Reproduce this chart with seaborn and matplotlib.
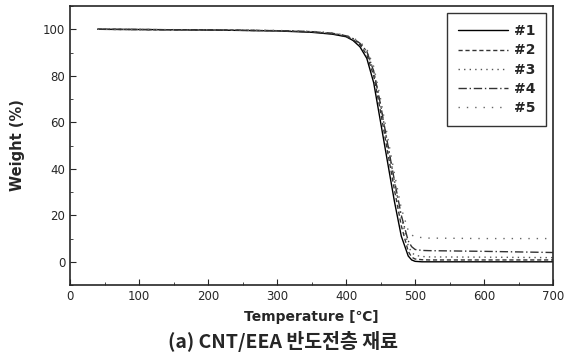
import pandas as pd
import seaborn as sns
import matplotlib.pyplot as plt
from matplotlib.ticker import MultipleLocator

sns.set_style("ticks")
plt.rcParams['font.family'] = ['DejaVu Sans', 'Noto Sans CJK KR']

# 온도 (°C)
temp = [40, 100, 200, 300, 350, 380, 400, 410, 420, 430, 440, 450, 460,
        470, 480, 490, 495, 500, 510, 520, 600, 700]

# 시료별 무게 (%)
w1 = [100, 99.9, 99.7, 99.3, 98.7, 97.9, 96.8, 95.2, 92.5, 87.5, 77.0, 60.0, 43.0,
      26.0, 11.0, 2.5, 0.8, 0.2, 0.0, 0.0, 0.0, 0.0]
w2 = [100, 99.9, 99.7, 99.4, 98.9, 98.1, 97.0, 95.6, 93.4, 89.0, 80.0, 64.5, 47.5,
      31.0, 15.5, 4.5, 2.0, 1.2, 0.9, 0.8, 0.8, 0.8]
w3 = [100, 99.9, 99.7, 99.4, 99.0, 98.3, 97.2, 96.0, 94.0, 90.5, 82.0, 67.5, 51.0,
      34.5, 19.0, 7.0, 4.0, 2.8, 2.3, 2.1, 2.0, 1.8]
w4 = [100, 99.9, 99.7, 99.4, 99.0, 98.3, 97.2, 96.0, 94.0, 90.5, 82.0, 67.5, 51.0,
      35.0, 20.0, 9.0, 6.5, 5.3, 4.9, 4.8, 4.5, 4.0]
w5 = [100, 99.9, 99.8, 99.5, 99.1, 98.5, 97.4, 96.3, 94.6, 91.5, 84.0, 70.0, 54.0,
      38.0, 23.0, 13.5, 11.5, 10.8, 10.4, 10.2, 10.0, 10.0]

labels = ['#1', '#2', '#3', '#4', '#5']
series = [w1, w2, w3, w4, w5]
styles = ['-', (0, (3, 2)), (0, (1, 3)), (0, (6, 2, 1, 2)), (0, (1, 5))]
colors = ['black', '#333333', '#555555', '#333333', '#666666']

fig = plt.figure(figsize=(5.65, 3.55), dpi=100)
ax = fig.add_axes([0.124, 0.197, 0.855, 0.786])

for lab, w, ls, c in zip(labels, series, styles, colors):
    df = pd.DataFrame({'Temperature': temp, 'Weight': w})
    sns.lineplot(data=df, x='Temperature', y='Weight', ax=ax, color=c,
                 linestyle=ls, linewidth=1.0, label=lab)

ax.set_xlim(0, 700)
ax.set_ylim(-10, 110)
ax.xaxis.set_major_locator(MultipleLocator(100))
ax.xaxis.set_minor_locator(MultipleLocator(50))
ax.yaxis.set_major_locator(MultipleLocator(20))
ax.yaxis.set_minor_locator(MultipleLocator(10))
ax.tick_params(which='both', direction='in', top=False, right=False, labelsize=8.5)
ax.tick_params(which='major', length=4)
ax.tick_params(which='minor', length=2)
for s in ax.spines.values():
    s.set_linewidth(1.2)

ax.set_xlabel('Temperature [℃]', fontsize=10, fontweight='bold', labelpad=5)
ax.set_ylabel('Weight (%)', fontsize=10.5, fontweight='bold', labelpad=13)

leg = ax.legend(loc='upper right', frameon=True, fancybox=False, handlelength=3.6,
                prop={'weight': 'bold', 'size': 10}, labelspacing=0.38,
                borderpad=0.8, handletextpad=0.4, edgecolor='black')
leg.get_frame().set_linewidth(1.0)

fig.text(0.5, 0.038, '(a) CNT/EEA 반도전층 재료', ha='center', va='center',
         fontsize=14, fontweight='bold', family=['Noto Sans CJK KR', 'DejaVu Sans'])

plt.savefig('out.png', dpi=100)
